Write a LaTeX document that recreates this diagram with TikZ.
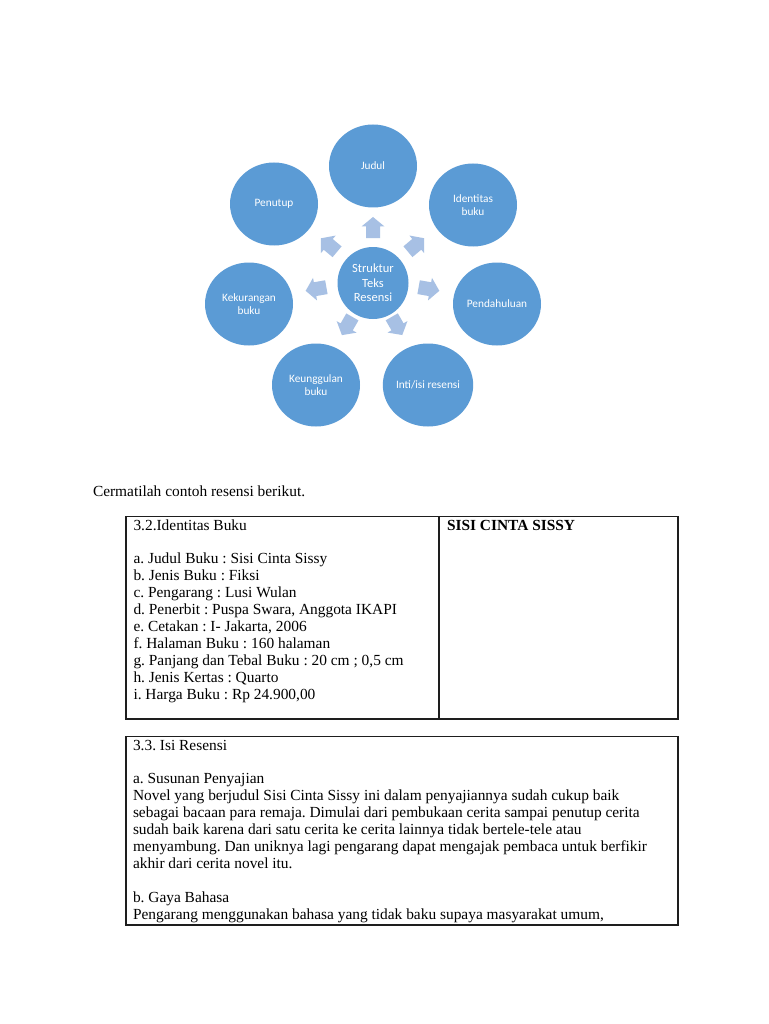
\documentclass[tikz,border=0pt]{standalone}
\usepackage{fontspec}
\setmainfont{Liberation Serif}
\newfontfamily\diagfont{Carlito}
\usetikzlibrary{calc,shapes.geometric}
\definecolor{circblue}{RGB}{91,155,213}
\definecolor{arrblue}{RGB}{167,192,228}
\definecolor{tabline}{RGB}{30,30,30}
\frenchspacing
\begin{document}
\begin{tikzpicture}[x=1pt,y=1pt,
  outer/.style={ellipse,fill=circblue,draw=none,inner sep=0pt,minimum width=88pt,minimum height=83pt,
    text=white,align=center,font=\diagfont\fontsize{11.3}{12.8}\selectfont},
  centre/.style={ellipse,fill=circblue,draw=none,inner sep=0pt,minimum width=71pt,minimum height=72pt,
    text=white,align=center,font=\diagfont\fontsize{12.5}{14.5}\selectfont},
  barrow/.pic={\fill[arrblue] (-10.5,-7) -- (1,-7) -- (1,-11.5) -- (10.5,0) -- (1,11.5) -- (1,7) -- (-10.5,7) -- cycle;},
  txt/.style={anchor=base west,inner sep=0pt,outer sep=0pt,font=\fontsize{15.4}{16.9}\selectfont},
  tab/.style={draw=tabline,line width=1.2pt}
]
\useasboundingbox (0,0) rectangle (768,-1024);
\fill[white] (0,0) rectangle (768,-1024);

% ---- diagram ----
\node[centre] (c) at (373,-283) {Struktur\\Teks\\Resensi};
\node[outer] (judul) at (373,-166) {Judul};
\node[outer] (ident) at (473,-205) {Identitas\\buku};
\node[outer] (pend) at (497,-304) {Pendahuluan};
\node[outer] (inti) at (428,-385) {Inti/isi resensi};
\node[outer] (keun) at (316,-385) {Keunggulan\\buku};
\node[outer] (kek) at (249,-304) {Kekurangan\\buku};
\node[outer] (pen) at (274,-204) {Penutup};

\pic[rotate=90] at ($(c)+(90:55.5)$) {barrow};
\pic[rotate=40] at ($(c)+(41.5:57.4)$) {barrow};
\pic[rotate=-10] at ($(c)+(-6.1:56.3)$) {barrow};
\pic[rotate=-60] at ($(c)+(-60.8:49.2)$) {barrow};
\pic[rotate=-120] at ($(c)+(-121:50.2)$) {barrow};
\pic[rotate=190] at ($(c)+(186:57.3)$) {barrow};
\pic[rotate=140] at ($(c)+(139.2:58.1)$) {barrow};

% ---- intro line ----
\node[txt] (intro) at (93,-496) {Cermatilah contoh resensi berikut.};

% ---- table 1 ----
\draw[tab] (126,-516.5) rectangle (678,-719);
\draw[tab] (439,-516.5) -- (439,-719);
\node[txt] (t1h) at (133.5,-530) {3.2.Identitas Buku};
\node[txt] (t1a) at (133.5,-563.8) {a. Judul Buku : Sisi Cinta Sissy};
\node[txt] (t1b) at (133.5,-580.7) {b. Jenis Buku : Fiksi};
\node[txt] (t1c) at (133.5,-597.6) {c. Pengarang : Lusi Wulan};
\node[txt] (t1d) at (133.5,-614.5) {d. Penerbit : Puspa Swara, Anggota IKAPI};
\node[txt] (t1e) at (133.5,-631.4) {e. Cetakan : I- Jakarta, 2006};
\node[txt] (t1f) at (133.5,-648.3) {f. Halaman Buku : 160 halaman};
\node[txt] (t1g) at (133.5,-665.2) {g. Panjang dan Tebal Buku : 20 cm ; 0,5 cm};
\node[txt] (t1h2) at (133.5,-682.1) {h. Jenis Kertas : Quarto};
\node[txt] (t1i) at (133.5,-699) {i. Harga Buku : Rp 24.900,00};
\node[txt,font=\fontsize{15.4}{16.9}\selectfont\bfseries] (t1r) at (447,-530) {SISI CINTA SISSY};

% ---- table 2 ----
\draw[tab] (126,-736.5) rectangle (678,-925);
\node[txt] (t2h) at (133,-750) {3.3. Isi Resensi};
\node[txt] (t2a) at (133,-783.8) {a. Susunan Penyajian};
\node[txt] (t2l1) at (133,-800.7) {Novel yang berjudul Sisi Cinta Sissy ini dalam penyajiannya sudah cukup baik};
\node[txt] (t2l2) at (133,-817.6) {sebagai bacaan para remaja. Dimulai dari pembukaan cerita sampai penutup cerita};
\node[txt] (t2l3) at (133,-834.5) {sudah baik karena dari satu cerita ke cerita lainnya tidak bertele-tele atau};
\node[txt] (t2l4) at (133,-851.4) {menyambung. Dan uniknya lagi pengarang dapat mengajak pembaca untuk berfikir};
\node[txt] (t2l5) at (133,-868.3) {akhir dari cerita novel itu.};
\node[txt] (t2b) at (133,-902.1) {b. Gaya Bahasa};
\node[txt] (t2l6) at (133,-919) {Pengarang menggunakan bahasa yang tidak baku supaya masyarakat umum,};
\end{tikzpicture}
\end{document}
